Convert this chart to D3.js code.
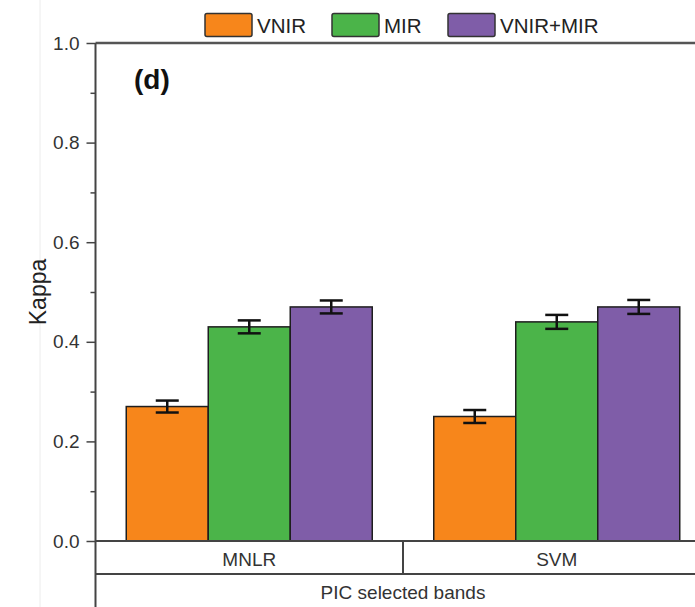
<!DOCTYPE html>
<html>
<head>
<meta charset="utf-8">
<script src="https://cdn.jsdelivr.net/npm/d3@7"></script>
<style>
  html, body { margin: 0; padding: 0; background: #fff; }
  svg { display: block; font-family: "Liberation Sans", Arial, sans-serif; }
</style>
</head>
<body>
<svg id="chart" width="695" height="607"></svg>
<script>
// Kappa by classifier and spectral range, PIC selected bands
const categories = ["MNLR", "SVM"];
const series = ["VNIR", "MIR", "VNIR+MIR"];
const vnirKappa = [0.27, 0.25];
const mirKappa = [0.43, 0.44];
const combinedKappa = [0.47, 0.47];
const vnirErr = [0.012, 0.013];
const mirErr = [0.013, 0.014];
const combinedErr = [0.013, 0.014];
const yTickValues = [0, 0.2, 0.4, 0.6, 0.8, 1.0];
const yMinorValues = [0.1, 0.3, 0.5, 0.7, 0.9];
const groupLabel = "PIC selected bands";
const panelLabel = "(d)";
const yLabel = "Kappa";
const colors = ["#F7861B", "#4BB449", "#7F5DA8"];

const values = [vnirKappa, mirKappa, combinedKappa];
const errors = [vnirErr, mirErr, combinedErr];

const svg = d3.select("#chart");
const plotLeft = 95.5, plotTop = 43, zeroY = 541;

const y = d3.scaleLinear().domain([0, 1]).range([zeroY, plotTop]);
const x0 = d3.scaleBand().domain(categories).range([plotLeft, plotLeft + 615]).padding(0);
const bw = x0.bandwidth();
const x1 = d3.scaleBand().domain(series).range([0.1 * bw, 0.9 * bw]).padding(0);
const color = d3.scaleOrdinal().domain(series).range(colors);

// faint page edge on the left
svg.append("line").attr("x1", 40).attr("x2", 40).attr("y1", 0).attr("y2", 607)
  .attr("stroke", "#ececec").attr("stroke-width", 1);

// bars
const rows = [];
categories.forEach((c, ci) => series.forEach((s, si) => {
  rows.push({ cat: c, ser: s, v: values[si][ci], e: errors[si][ci] });
}));

svg.append("g").selectAll("rect").data(rows).join("rect")
  .attr("x", d => x0(d.cat) + x1(d.ser))
  .attr("y", d => y(d.v))
  .attr("width", x1.bandwidth())
  .attr("height", d => y(0) - y(d.v))
  .attr("fill", d => color(d.ser))
  .attr("stroke", "#1e1e1e")
  .attr("stroke-width", 1.5);

// error bars
const eg = svg.append("g").attr("stroke", "#111").attr("stroke-width", 2.5).attr("fill", "none");
rows.forEach(d => {
  const cx = x0(d.cat) + x1(d.ser) + x1.bandwidth() / 2;
  eg.append("line").attr("x1", cx).attr("x2", cx).attr("y1", y(d.v + d.e)).attr("y2", y(d.v - d.e));
  eg.append("line").attr("x1", cx - 11.5).attr("x2", cx + 11.5).attr("y1", y(d.v + d.e)).attr("y2", y(d.v + d.e));
  eg.append("line").attr("x1", cx - 11.5).attr("x2", cx + 11.5).attr("y1", y(d.v - d.e)).attr("y2", y(d.v - d.e));
});

// y axis with major and minor ticks
const yAxis = d3.axisLeft(y).tickValues(yTickValues).tickFormat(d3.format(".1f")).tickSize(9).tickPadding(7);
const ga = svg.append("g").attr("transform", `translate(${plotLeft},0)`).call(yAxis);
ga.select(".domain").remove();
ga.selectAll(".tick line").attr("stroke", "#444").attr("stroke-width", 1.5);
ga.selectAll(".tick text").attr("font-size", 19).attr("fill", "#333")
  .attr("font-family", "'Liberation Sans', Arial, sans-serif");
const gm = svg.append("g").attr("transform", `translate(${plotLeft},0)`)
  .call(d3.axisLeft(y).tickValues(yMinorValues).tickSize(5).tickFormat(""));
gm.select(".domain").remove();
gm.selectAll(".tick line").attr("stroke", "#444").attr("stroke-width", 1.5);

// frame lines
svg.append("line").attr("x1", plotLeft).attr("x2", 695).attr("y1", plotTop).attr("y2", plotTop)
  .attr("stroke", "#555").attr("stroke-width", 2.5);
svg.append("line").attr("x1", plotLeft).attr("x2", plotLeft).attr("y1", plotTop).attr("y2", 607)
  .attr("stroke", "#444").attr("stroke-width", 2);
svg.append("line").attr("x1", plotLeft).attr("x2", 695).attr("y1", zeroY).attr("y2", zeroY)
  .attr("stroke", "#444").attr("stroke-width", 2);

// category table under the axis
const rowY = 574;
svg.append("line").attr("x1", plotLeft).attr("x2", 695).attr("y1", rowY).attr("y2", rowY)
  .attr("stroke", "#444").attr("stroke-width", 2);
svg.append("line").attr("x1", x0(categories[1])).attr("x2", x0(categories[1]))
  .attr("y1", zeroY).attr("y2", rowY).attr("stroke", "#444").attr("stroke-width", 2);
svg.append("g").selectAll("text").data(categories).join("text")
  .attr("x", d => x0(d) + bw / 2).attr("y", 566)
  .attr("text-anchor", "middle").attr("font-size", 19).attr("fill", "#333").text(d => d);
svg.append("text").attr("x", x0(categories[1])).attr("y", 599)
  .attr("text-anchor", "middle").attr("font-size", 19).attr("fill", "#333").text(groupLabel);

// axis title and panel letter
svg.append("text").attr("transform", "translate(46,292) rotate(-90)")
  .attr("text-anchor", "middle").attr("font-size", 23).attr("fill", "#222").text(yLabel);
svg.append("text").attr("x", 134).attr("y", 89).attr("font-size", 28).attr("font-weight", "bold")
  .attr("fill", "#111").text(panelLabel);

// legend
const legendX = [205, 332, 448];
const lg = svg.append("g");
series.forEach((s, i) => {
  lg.append("rect").attr("x", legendX[i]).attr("y", 13.5).attr("width", 47).attr("height", 23)
    .attr("rx", 2).attr("fill", color(s)).attr("stroke", "#333").attr("stroke-width", 1.5);
  lg.append("text").attr("x", legendX[i] + 52).attr("y", 33).attr("font-size", 20.5)
    .attr("fill", "#222").text(s);
});
</script>
</body>
</html>
